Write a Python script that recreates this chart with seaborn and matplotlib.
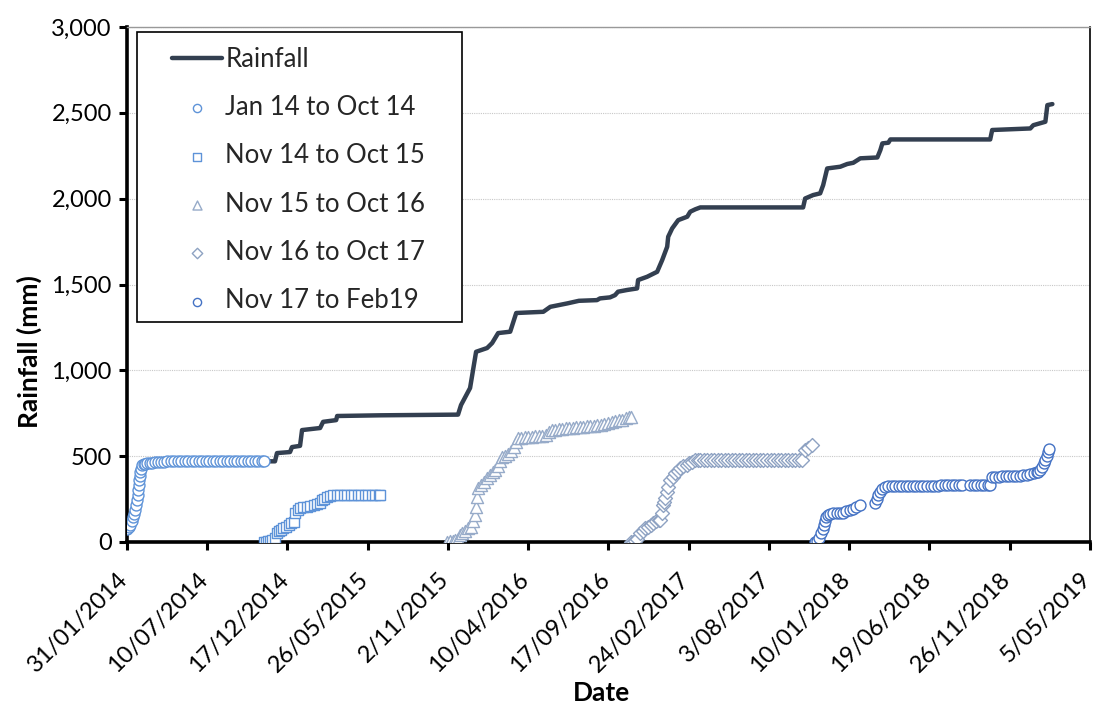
import numpy as np
import pandas as pd
import matplotlib.pyplot as plt
from matplotlib.patches import Rectangle
from matplotlib.transforms import ScaledTranslation
import seaborn as sns

# cumulative rainfall line
rain_date = ['2014-01-31', '2014-02-06', '2014-02-12', '2014-02-16', '2014-02-20', '2014-02-22',
             '2014-02-24', '2014-02-26', '2014-03-02', '2014-03-12', '2014-04-03', '2014-04-21',
             '2014-11-22', '2014-11-26', '2014-12-22', '2014-12-26', '2015-01-11', '2015-01-15',
             '2015-02-20', '2015-02-26', '2015-03-24', '2015-03-26', '2015-06-20', '2015-11-22',
             '2015-11-28', '2015-12-16', '2015-12-28', '2016-01-19', '2016-01-29', '2016-02-10',
             '2016-03-05', '2016-03-17', '2016-05-10', '2016-05-24', '2016-06-27', '2016-07-20',
             '2016-08-25', '2016-08-31', '2016-09-20', '2016-09-30', '2016-10-06', '2016-10-24',
             '2016-11-13', '2016-11-15', '2016-12-03', '2016-12-23', '2017-01-02', '2017-01-12',
             '2017-01-14', '2017-01-22', '2017-02-03', '2017-02-21', '2017-02-27', '2017-03-09',
             '2017-03-19', '2017-10-10', '2017-10-14', '2017-10-30', '2017-11-13', '2017-11-19',
             '2017-11-27', '2017-12-23', '2018-01-06', '2018-01-18', '2018-02-01', '2018-03-07',
             '2018-03-13', '2018-03-17', '2018-03-29', '2018-04-02', '2018-10-18', '2018-10-22',
             '2019-01-06', '2019-01-12', '2019-02-05', '2019-02-09', '2019-02-19']
rain_mm = [75, 100, 146, 186, 245, 303, 361, 408, 448, 460, 465, 470,
           470, 518, 524, 553, 560, 652, 664, 700, 710, 734, 738, 742,
           798, 897, 1108, 1130, 1159, 1217, 1225, 1334, 1341, 1370, 1390, 1405,
           1409, 1419, 1425, 1438, 1458, 1468, 1477, 1526, 1545, 1574, 1642, 1720,
           1778, 1827, 1875, 1895, 1924, 1938, 1949, 1949, 2001, 2021, 2031, 2079,
           2176, 2186, 2202, 2209, 2235, 2240, 2283, 2322, 2326, 2345, 2345, 2400,
           2409, 2428, 2448, 2545, 2551]

# period series: days after the period start, cumulative mm
s1_start = '2014-01-31'
s1_day = [0, 3, 6, 9, 12, 14, 16, 18, 20, 21, 22, 23, 24, 25, 26, 28, 30, 33, 36, 40, 45, 50, 56, 62,
          68, 74, 80, 87, 94, 101, 108, 115, 122, 129, 136, 143, 150, 157, 164, 171, 178, 185,
          192, 199, 206, 213, 220, 227, 234, 241, 248, 255, 262, 269, 273]
s1_mm = [75, 85, 100, 122, 146, 166, 186, 215, 245, 274, 303, 332, 361, 385, 408, 428, 448, 452,
         456, 460, 461, 463, 465, 466, 467, 468, 470, 470, 470, 470, 470, 470, 470, 470, 470,
         470, 470, 470, 470, 470, 470, 470, 470, 470, 470, 470, 470, 470, 470, 470, 470, 470,
         470, 470, 470]

s2_start = '2014-11-01'
s2_day = [0, 4, 8, 12, 16, 21, 25, 29, 33, 38, 43, 48, 53, 58, 61, 66, 71, 77, 84, 91, 98, 105,
          111, 114, 119, 124, 130, 137, 144, 151, 158, 165, 172, 179, 186, 193, 200, 207, 214,
          221, 228, 231]
s2_mm = [0, 2, 4, 6, 10, 21, 55, 62, 70, 80, 90, 99, 108, 118, 167, 185, 196, 202, 206, 212, 218,
         222, 225, 245, 252, 260, 268, 274, 274, 274, 274, 274, 274, 274, 274, 274, 274, 274,
         274, 274, 274, 274]

s3_start = '2015-11-01'
s3_day = [0, 5, 10, 15, 20, 24, 28, 34, 40, 46, 50, 54, 57, 59, 61, 66, 72, 78, 84, 90, 94, 100,
          104, 108, 114, 120, 126, 132, 136, 140, 147, 154, 161, 168, 175, 182, 189, 196, 203,
          208, 215, 222, 229, 236, 243, 250, 257, 264, 271, 278, 285, 292, 299, 306, 313, 320,
          327, 334, 341, 348, 355, 362, 366]
s3_mm = [0, 3, 6, 10, 20, 40, 50, 65, 80, 90, 120, 160, 206, 260, 314, 330, 350, 373, 390, 405,
         419, 440, 470, 497, 500, 510, 530, 555, 580, 605, 607, 610, 612, 614, 616, 618, 620,
         623, 640, 652, 655, 658, 660, 662, 664, 666, 668, 670, 672, 674, 676, 678, 681, 684,
         688, 693, 700, 705, 709, 713, 720, 728, 730]

s4_start = '2016-11-01'
s4_day = [0, 4, 8, 12, 18, 23, 28, 34, 40, 44, 50, 55, 58, 61, 64, 66, 68, 71, 74, 78, 83, 88, 93,
          98, 104, 111, 116, 121, 128, 134, 138, 145, 152, 159, 166, 173, 180, 187, 194, 201,
          208, 215, 222, 229, 236, 243, 250, 257, 264, 271, 278, 285, 292, 299, 306, 313, 320,
          327, 334, 341, 347, 353, 360]
s4_mm = [0, 0, 5, 20, 50, 65, 80, 90, 100, 109, 120, 128, 128, 167, 215, 235, 254, 290, 322, 361,
         380, 400, 415, 429, 440, 448, 458, 468, 475, 480, 480, 480, 480, 480, 480, 480, 480,
         480, 480, 480, 480, 480, 480, 480, 480, 480, 480, 480, 480, 480, 480, 480, 480, 480,
         480, 480, 480, 480, 480, 480, 536, 550, 565]

s5_start = '2017-11-01'
s5_day = [2, 6, 10, 14, 17, 20, 22, 24, 27, 31, 38, 45, 52, 58, 64, 71, 77, 84, 91,
          121, 125, 128, 131, 135, 141, 148, 155, 162, 169, 176, 183, 190, 197, 204, 211, 218,
          225, 232, 239, 246, 253, 260, 267, 274, 281, 288, 294,
          311, 318, 325, 332, 339, 346, 351, 354, 361, 368, 375, 382, 389, 396, 403, 410, 417,
          424, 431, 438, 444, 447, 450, 454, 458, 461, 464, 467, 469]
s5_mm = [0, 5, 25, 50, 75, 99, 125, 147, 158, 165, 167, 167, 168, 170, 178, 186, 195, 205, 215,
         225, 250, 274, 290, 307, 318, 326, 326, 326, 327, 327, 327, 328, 328, 328, 328, 329,
         329, 329, 329, 329, 330, 330, 330, 330, 330, 330, 330,
         330, 330, 330, 330, 330, 330, 330, 380, 381, 381, 382, 382, 383, 383, 384, 384, 388,
         392, 396, 402, 407, 409, 420, 438, 458, 478, 500, 526, 540]

labels = ['Jan 14 to Oct 14', 'Nov 14 to Oct 15', 'Nov 15 to Oct 16',
          'Nov 16 to Oct 17', 'Nov 17 to Feb19']
markers = ['o', 's', '^', 'D', 'o']
colors = ['#5E93D8', '#5E93D8', '#97ABC9', '#8EA2C2', '#4472C4']
sizes = [62, 58, 75, 50, 62]

series = [(s1_start, s1_day, s1_mm), (s2_start, s2_day, s2_mm), (s3_start, s3_day, s3_mm),
          (s4_start, s4_day, s4_mm), (s5_start, s5_day, s5_mm)]

sns.set_theme(style='ticks')
plt.rcParams['font.family'] = ['Lato', 'DejaVu Sans']

fig = plt.figure(figsize=(10.96, 7.11), dpi=100)
ax = fig.add_axes([127 / 1096, 169 / 711, 963 / 1096, 515 / 711])

rain = pd.DataFrame({'date': pd.to_datetime(rain_date), 'mm': rain_mm})
sns.lineplot(data=rain, x='date', y='mm', color='#333F50', linewidth=3.2,
             errorbar=None, label='Rainfall', ax=ax, zorder=2)

for (start, day, mm), lab, mk, c, s in zip(series, labels, markers, colors, sizes):
    df = pd.DataFrame({'date': pd.Timestamp(start) + pd.to_timedelta(day, unit='D'), 'mm': mm})
    sns.scatterplot(data=df, x='date', y='mm', marker=mk, s=s, facecolor='white',
                    edgecolor=c, linewidth=1.0, label=lab, ax=ax, zorder=3)

tick_dates = pd.date_range('2014-01-31', periods=13, freq='160D')
ax.set_xlim(tick_dates[0], tick_dates[-1])
ax.set_xticks(tick_dates)
ax.set_xticklabels([f'{d.day}/{d.month:02d}/{d.year}' for d in tick_dates],
                   rotation=45, ha='right', va='top', rotation_mode='anchor')
ax.set_ylim(0, 3000)
ax.set_yticks(np.arange(0, 3001, 500))
ax.yaxis.set_major_formatter(plt.FuncFormatter(lambda v, p: f'{v:,.0f}'))

ax.tick_params(axis='both', direction='out', length=6, width=2.2, color='black',
               labelsize=17, labelcolor='black')
ax.tick_params(axis='x', pad=6)
ax.tick_params(axis='y', pad=5)

# shift the slanted date labels a little down-left, like the original
offset = ScaledTranslation(-0.10, -0.10, fig.dpi_scale_trans)
for lbl in ax.get_xticklabels():
    lbl.set_transform(lbl.get_transform() + offset)

ax.yaxis.grid(True, color='#c8c8c8', linestyle=(0, (1, 1)), linewidth=0.8)
ax.set_axisbelow(True)

for side in ['left', 'bottom']:
    ax.spines[side].set_linewidth(2.6)
    ax.spines[side].set_color('black')
ax.spines['right'].set_visible(True)
ax.spines['right'].set_linewidth(1.2)
ax.spines['right'].set_color('black')
ax.spines['top'].set_visible(True)
ax.spines['top'].set_linewidth(1.0)
ax.spines['top'].set_color('#999999')

ax.set_xlabel('Date', fontsize=19, fontweight='bold', color='black')
ax.set_ylabel('Rainfall (mm)', fontsize=19, fontweight='bold', color='black')
ax.xaxis.set_label_coords(0.493, -0.27)
ax.yaxis.set_label_coords(-0.088, 0.37)

# legend box drawn separately so the entries can sit inset from the frame
ax.add_patch(Rectangle((0.0104, 0.4272), 0.3375, 0.5631, transform=ax.transAxes,
                       facecolor='white', edgecolor='black', linewidth=1.2, zorder=4.5,
                       clip_on=False))
leg = ax.legend(loc='upper left', bbox_to_anchor=(0.0467, 0.962), borderaxespad=0,
                borderpad=0, fontsize=18.5, frameon=False, handlelength=1.95,
                handletextpad=0.12, labelspacing=0.91, markerscale=0.75)
leg.set_zorder(5)

fig.savefig('out.png', dpi=100)
